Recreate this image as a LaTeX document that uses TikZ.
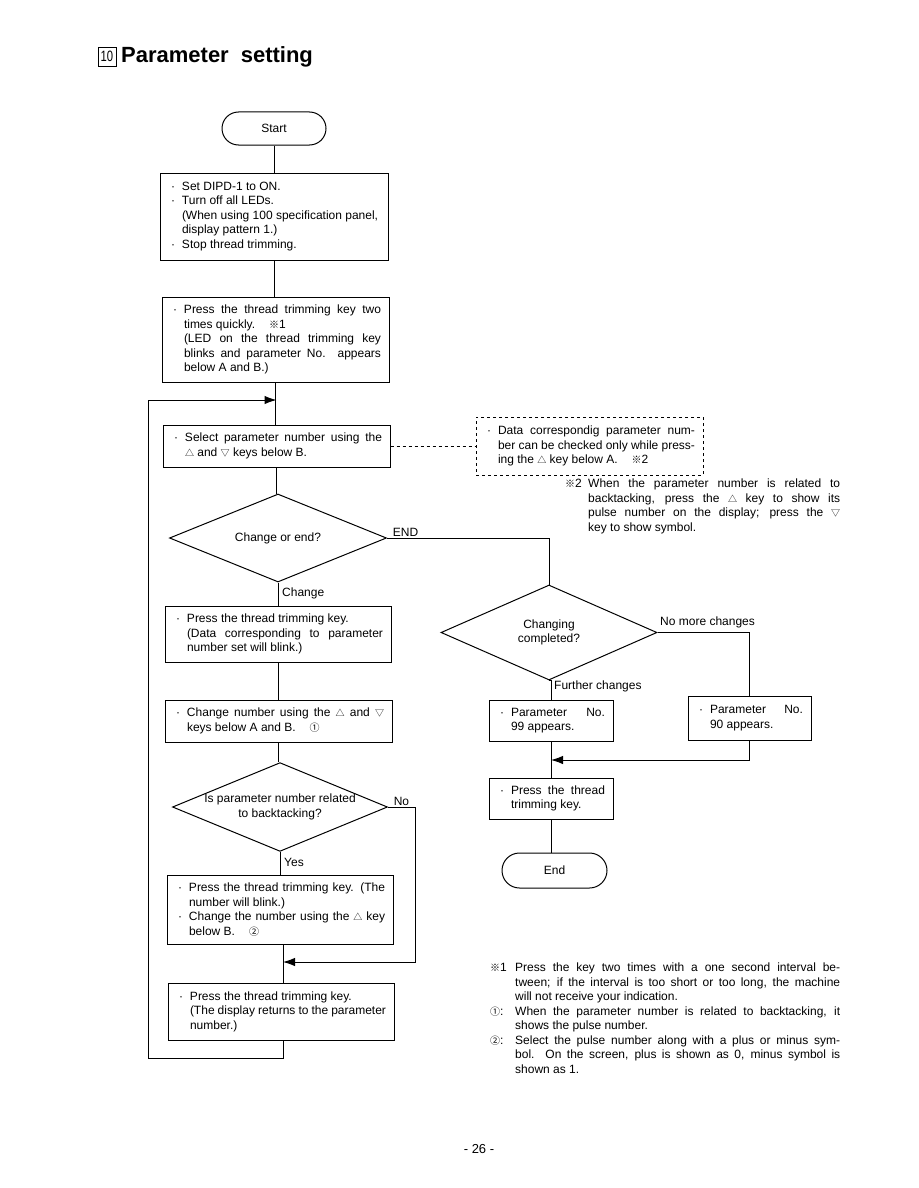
\documentclass[tikz,border=0pt]{standalone}
\usepackage{fontspec}
\setmainfont{Liberation Sans}
\newfontfamily\symf{Noto Sans CJK JP}
\usetikzlibrary{shapes.geometric,shapes.misc,arrows.meta}
\newcommand{\tup}{{\symf\fontsize{9}{9}\selectfont △}}
\newcommand{\tdn}{{\symf\fontsize{9}{9}\selectfont ▽}}
\newcommand{\kome}{{\symf\fontsize{10}{10}\selectfont ※}}
\newcommand{\cone}{{\symf\fontsize{10}{10}\selectfont ①}}
\newcommand{\ctwo}{{\symf\fontsize{10}{10}\selectfont ②}}
\newcommand{\bul}{\leavevmode\llap{·\hspace{7pt}}}
\newcommand{\pb}[3]{\parbox{#1}{\parindent=0pt\leftskip=#2\relax\rightskip=0pt\relax #3}}
\tikzset{
  txt/.style={font=\fontsize{12}{14.5}\selectfont},
  box/.style={txt, draw, line width=1pt, rectangle, inner xsep=8pt, inner ysep=1pt},
  dbox/.style={box, dashed},
  term/.style={txt, draw, line width=1pt, rounded rectangle, inner sep=0pt},
  dia/.style={txt, draw, line width=1pt, diamond, shape aspect=2.4, inner sep=0pt, align=center},
  lbl/.style={txt, inner sep=0pt},
  line/.style={line width=1pt},
  arr/.style={line width=1pt, -{Latex[length=12pt,width=8.5pt]}},
}
\begin{document}
\begin{tikzpicture}[x=1pt,y=-1pt]
\fill[white] (0,0) rectangle (918,1188);
\useasboundingbox (0,0) rectangle (918,1188);

% title
\node[draw, line width=0.8pt, minimum width=18pt, minimum height=19pt, inner sep=0pt, font=\fontsize{15}{15}\selectfont] (tnum) at (107,56.5) {\scalebox{0.75}[1]{10}};
\node[anchor=west, inner sep=0pt, font=\fontsize{22}{22}\selectfont\bfseries] (title) at (121,57) {Parameter\hspace{12pt}setting};

% left column
\node[term, minimum width=104pt, minimum height=33pt] (start) at (274,128.5) {Start};
\node[box, minimum width=228pt, minimum height=87pt] (b1) at (274,216.5)
 {\pb{212pt}{14pt}{\bul Set DIPD-1 to ON.\\
  \bul Turn off all LEDs.\\
  (When using 100 specification panel,\\
  display pattern 1.)\\
  \bul Stop thread trimming.}};
\node[box, minimum width=227pt, minimum height=85pt] (b2) at (275.5,339.5)
 {\pb{211pt}{14pt}{\bul Press the thread trimming key two\linebreak
  times quickly.\hspace{14pt}\kome1\\
  (LED on the thread trimming key\linebreak
  blinks and parameter No. appears\linebreak
  below A and B.)}};
\node[box, minimum width=227pt, minimum height=42pt] (b3) at (276.5,446)
 {\pb{211pt}{14pt}{\bul Select parameter number using the\linebreak
  \tup\ and \tdn\ keys below B.}};
\node[dia, minimum width=217pt, minimum height=88pt] (d1) at (278,538) {Change or end?};
\node[box, minimum width=226pt, minimum height=56pt] (b4) at (278,634)
 {\pb{210pt}{14pt}{\bul Press the thread trimming key.\\
  (Data corresponding to parameter\linebreak
  number set will blink.)}};
\node[box, minimum width=227pt, minimum height=42pt] (b5) at (278.5,721)
 {\pb{211pt}{14pt}{\bul Change number using the \tup\ and \tdn\linebreak
  keys below A and B.\hspace{14pt}\cone}};
\node[dia, minimum width=215pt, minimum height=88pt] (d3) at (280,807) {Is parameter number related\\to backtacking?};
\node[box, minimum width=226pt, minimum height=69pt] (b6) at (280,909.5)
 {\pb{210pt}{14pt}{\bul Press the thread trimming key. (The\linebreak
  number will blink.)\\
  \bul Change the number using the \tup\ key\linebreak
  below B.\hspace{14pt}\ctwo}};
\node[box, minimum width=226pt, minimum height=57pt] (b7) at (281,1011.5)
 {\pb{210pt}{14pt}{\bul Press the thread trimming key.\\
  (The display returns to the parameter\\
  number.)}};

% dashed note
\node[dbox, minimum width=227pt, minimum height=58pt] (note) at (589.5,446)
 {\pb{211pt}{14pt}{\bul Data correspondig parameter num-\linebreak
  ber can be checked only while press-\linebreak
  ing the \tup\ key below A.\hspace{14pt}\kome2}};
\node[txt, anchor=north west, inner sep=0pt] (note2) at (565,479)
 {\pb{275pt}{23pt}{\leavevmode\llap{\makebox[23pt][l]{\kome2}}When the parameter number is related to\linebreak
  backtacking, press the \tup\ key to show its\linebreak
  pulse number on the display; press the \tdn\linebreak
  key to show symbol.}};

% right column
\node[dia, minimum width=216pt, minimum height=95pt] (d2) at (549,632.5) {Changing\\completed?};
\node[box, minimum width=124pt, minimum height=41pt] (b8) at (551,720.5)
 {\pb{108pt}{14pt}{\bul Parameter No.\linebreak 99 appears.}};
\node[box, minimum width=123pt, minimum height=44pt] (b9) at (749.5,718)
 {\pb{107pt}{14pt}{\bul Parameter No.\linebreak 90 appears.}};
\node[box, minimum width=124pt, minimum height=41pt] (b10) at (551,798.5)
 {\pb{108pt}{14pt}{\bul Press the thread\linebreak trimming key.}};
\node[term, minimum width=105pt, minimum height=35pt] (end) at (554.5,870.5) {End};

% labels
\node[lbl] (lend) at (405.5,532) {END};
\node[lbl, anchor=west] (lchange) at (282,593.5) {Change};
\node[lbl] (lno) at (401.5,801) {No};
\node[lbl, anchor=west] (lyes) at (284,862) {Yes};
\node[lbl, anchor=west] (lfurther) at (554,686.5) {Further changes};
\node[lbl, anchor=west] (lnomore) at (660,622) {No more changes};

% footnotes
\node[txt, anchor=north west, inner sep=0pt] (fn) at (490,963)
 {\pb{350pt}{25pt}{%
  \leavevmode\llap{\makebox[25pt][l]{\kome1}}Press the key two times with a one second interval be-\linebreak
  tween; if the interval is too short or too long, the machine\linebreak
  will not receive your indication.\\
  \leavevmode\llap{\makebox[25pt][l]{\cone:}}When the parameter number is related to backtacking, it\linebreak
  shows the pulse number.\\
  \leavevmode\llap{\makebox[25pt][l]{\ctwo:}}Select the pulse number along with a plus or minus sym-\linebreak
  bol. On the screen, plus is shown as 0, minus symbol is\linebreak
  shown as 1.}};

\node[txt, font=\fontsize{13}{14}\selectfont] (page) at (479,1149) {- 26 -};

% coordinates
\coordinate (loopB) at (148,1058);
\coordinate (loopT) at (148,400);
\coordinate (noC) at (415,962);
\coordinate (mergeR) at (749.5,760);

% connectors
\draw[line] (start.south) -- (start.south |- b1.north);
\draw[line] (b1.south) -- (b1.south |- b2.north);
\draw[line] (b2.south) -- (b2.south |- b3.north);
\draw[arr] (loopB) -- (loopT) -- (b3.north |- loopT);
\draw[line] (b3.south) -- (b3.south |- d1.north);
\draw[line, dashed] (b3.east) -- (note.west);
\draw[line] (d1.south) -- (d1.south |- b4.north);
\draw[line] (b4.south) -- (b4.south |- b5.north);
\draw[line] (b5.south) -- (b5.south |- d3.north);
\draw[line] (d3.south) -- (d3.south |- b6.north);
\draw[line] ([xshift=3pt]b6.south) -- ([xshift=3pt]b6.south |- b7.north);
\draw[arr] (d3.east) -| (noC) -- ([xshift=3pt]b6.south |- noC);
\draw[line] ([xshift=3pt]b6.south |- b7.south) |- (loopB);
\draw[line] (d1.east) -| (d2.north);
\draw[line] (d2.south) -- (d2.south -| b8.north) -- (b8.north);
\draw[line] (d2.east) -| (b9.north);
\draw[line] (b8.south) -- (b10.north);
\draw[arr] (b9.south) -- (mergeR) -- (b10.north |- mergeR);
\draw[line] (b10.south) -- (b10.south |- end.north);
\end{tikzpicture}
\end{document}
